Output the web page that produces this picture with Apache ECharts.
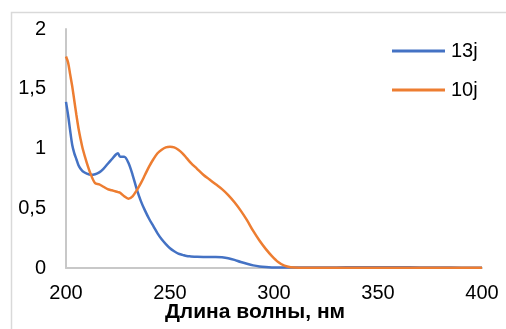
<!DOCTYPE html>
<html>
<head>
<meta charset="utf-8">
<script src="https://cdn.jsdelivr.net/npm/echarts@6/dist/echarts.min.js"></script>
<style>
  html, body { margin: 0; padding: 0; background: #fff; }
  #chart { width: 506px; height: 329px; }
</style>
</head>
<body>
<div id="chart"></div>
<script>
// UV absorption spectra of compounds 13j and 10j
const wavelengths = [200,201,202,203,204,205,206,207,208,210,212,214,216,218,220,222,224,225,226,228,
  230,232,234,236,238,240,242,244,246,248,250,252,254,256,258,260,263,266,269,272,275,278,281,284,287,
  290,293,296,299,302,305,308,312,320,330,340,350,360,370,380,390,400];

const abs13j = [1.39,1.28,1.15,1.03,0.96,0.91,0.86,0.83,0.81,0.79,0.78,0.785,0.80,0.83,0.87,0.91,0.95,0.96,0.93,0.93,
  0.88,0.78,0.66,0.56,0.48,0.41,0.35,0.29,0.24,0.20,0.165,0.14,0.12,0.11,0.10,0.097,0.094,0.093,0.093,0.093,0.09,
  0.082,0.068,0.05,0.035,0.022,0.013,0.008,0.005,0.004,0.004,0.004,0.004,0.004,0.005,0.006,0.007,0.006,0.005,0.004,0.003,0.002];

const abs10j = [1.77,1.72,1.62,1.52,1.40,1.28,1.17,1.08,1.00,0.88,0.78,0.71,0.70,0.68,0.66,0.65,0.64,0.635,0.63,0.60,
  0.58,0.60,0.65,0.71,0.78,0.85,0.91,0.96,0.99,1.01,1.015,1.01,0.99,0.96,0.92,0.88,0.83,0.78,0.74,0.70,0.66,
  0.61,0.55,0.48,0.40,0.31,0.23,0.16,0.10,0.05,0.02,0.007,0.003,0.003,0.003,0.003,0.003,0.003,0.003,0.003,0.002,0.002];

const seriesNames = ['13j', '10j'];
const seriesColors = ['#4472C4', '#ED7D31'];
const xTitle = 'Длина волны, нм';

const pairs = vals => wavelengths.map((w, i) => [w, vals[i]]);
const FONT = '"Liberation Sans", Arial, sans-serif';

const chart = echarts.init(document.getElementById('chart'), null, { renderer: 'canvas' });
chart.setOption({
  animation: false,
  backgroundColor: '#fff',
  grid: { left: 66, right: 24, top: 29, bottom: 61, containLabel: false },
  graphic: [
    {
      type: 'rect',
      shape: { x: 11.5, y: 12.5, width: 620, height: 420 },
      style: { fill: 'none', stroke: '#d9d9d9', lineWidth: 1.5 },
      silent: true, z: -1
    },
    {
      type: 'text',
      x: 255, y: 312,
      style: {
        text: xTitle, font: 'bold 21px ' + FONT, fill: '#000',
        textAlign: 'center', textVerticalAlign: 'middle'
      }
    }
  ],
  legend: {
    orient: 'vertical',
    left: 392, top: 41,
    padding: 0,
    itemWidth: 53, itemHeight: 3,
    itemGap: 19,
    icon: 'rect',
    textStyle: { fontFamily: FONT, fontSize: 20, color: '#000', padding: [0, 0, 0, 1] },
    data: seriesNames
  },
  xAxis: {
    type: 'value', min: 200, max: 400, interval: 50,
    axisLine: { show: true, lineStyle: { color: '#c8c8c8', width: 2 } },
    axisTick: { show: false },
    splitLine: { show: false },
    axisLabel: { fontFamily: FONT, fontSize: 20, color: '#000', margin: 15 }
  },
  yAxis: {
    type: 'value', min: 0, max: 2, interval: 0.5,
    axisLine: { show: true, lineStyle: { color: '#c8c8c8', width: 2 } },
    axisTick: { show: false },
    splitLine: { show: false },
    axisLabel: {
      fontFamily: FONT, fontSize: 20, color: '#000', margin: 20,
      formatter: v => String(v).replace('.', ',')
    }
  },
  series: [
    {
      name: seriesNames[0], type: 'line', data: pairs(abs13j),
      showSymbol: false, smooth: 0.3,
      lineStyle: { color: seriesColors[0], width: 2.5 },
      itemStyle: { color: seriesColors[0] }
    },
    {
      name: seriesNames[1], type: 'line', data: pairs(abs10j),
      showSymbol: false, smooth: 0.3,
      lineStyle: { color: seriesColors[1], width: 2.5 },
      itemStyle: { color: seriesColors[1] }
    }
  ]
});
</script>
</body>
</html>
